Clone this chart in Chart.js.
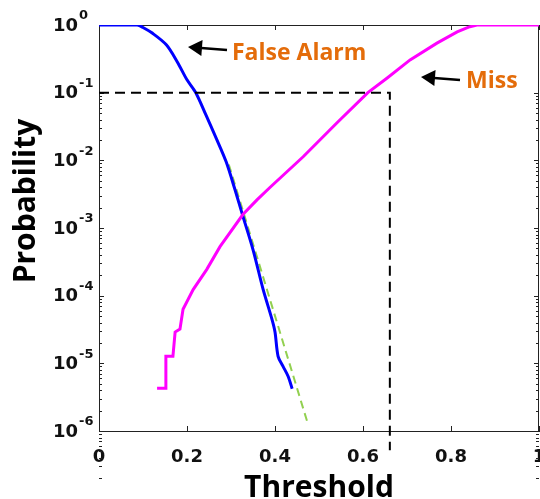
<!DOCTYPE html>
<html>
<head>
<meta charset="utf-8">
<script src="https://cdn.jsdelivr.net/npm/chart.js@4.4.1/dist/chart.umd.min.js"></script>
<style>
  html, body { margin: 0; padding: 0; background: #fff; }
  canvas { display: block; }
</style>
</head>
<body>
<canvas id="ProbChart" width="540" height="499"></canvas>
<script>
// False alarm curve (blue)
var faThreshold = [0, 0.05, 0.087, 0.1, 0.121, 0.153, 0.178, 0.2, 0.22, 0.243, 0.266, 0.289, 0.309, 0.327, 0.35, 0.373, 0.393, 0.4, 0.407, 0.418, 0.43, 0.439];
var faProb = [1, 1, 1, 0.92, 0.76, 0.51, 0.285, 0.155, 0.1, 0.047, 0.0215, 0.0095, 0.0037, 0.0015, 4.8e-4, 1.24e-4, 4.5e-5, 2.9e-5, 1.27e-5, 9.1e-6, 6.4e-6, 4.2e-6];

// Miss curve (magenta)
var missThreshold = [0.132, 0.152, 0.152, 0.168, 0.173, 0.184, 0.191, 0.214, 0.245, 0.275, 0.327, 0.359, 0.389, 0.464, 0.541, 0.611, 0.655, 0.707, 0.768, 0.814, 0.84, 0.859, 0.9, 1];
var missProb = [4.3e-6, 4.3e-6, 1.27e-5, 1.27e-5, 2.9e-5, 3.2e-5, 6.3e-5, 1.23e-4, 2.45e-4, 5.3e-4, 1.58e-3, 2.6e-3, 4e-3, 0.0113, 0.036, 0.1, 0.165, 0.305, 0.54, 0.79, 0.93, 1, 1, 1];

// extrapolated tail of the false alarm curve (green dashed)
var fitThreshold = [0.295, 0.475];
var fitProb = [8.7e-3, 1.26e-6];

// operating point (black dashed)
var opThreshold = 0.661;
var opProb = 0.1;
var dashBottom = 5.2e-7;

var xTicks = [0, 0.2, 0.4, 0.6, 0.8, 1];
var yExponents = [0, -1, -2, -3, -4, -5, -6];
var yTickBase = '10';
var yTickExp = ['0', '-1', '-2', '-3', '-4', '-5', '-6'];

function toPoints(xs, ys) {
    return xs.map(function (x, i) { return { x: x, y: ys[i] }; });
}

// box + inward tick marks, like the matlab axes
var frameTicks = {
    id: 'frameTicks',
    beforeDatasetsDraw: function (chart) {
        var ctx = chart.ctx, a = chart.chartArea;
        var xs = chart.scales.x, ys = chart.scales.y;
        ctx.save();
        ctx.strokeStyle = '#222';
        ctx.lineWidth = 1;
        ctx.beginPath();
        xTicks.forEach(function (v) {
            var px = Math.round(xs.getPixelForValue(v)) + 0.5;
            ctx.moveTo(px, a.bottom); ctx.lineTo(px, a.bottom - 5);
            ctx.moveTo(px, a.top); ctx.lineTo(px, a.top + 5);
        });
        yExponents.forEach(function (e) {
            for (var m = 1; m < 10; m++) {
                if (e === 0 && m > 1) break;
                var py = Math.round(ys.getPixelForValue(m * Math.pow(10, e - (m > 1 ? 1 : 0)))) + 0.5;
                var len = m === 1 ? 5 : 3;
                ctx.moveTo(a.left, py); ctx.lineTo(a.left + len, py);
                ctx.moveTo(a.right, py); ctx.lineTo(a.right - len, py);
            }
        });
        ctx.stroke();
        ctx.strokeRect(a.left + 0.5, a.top + 0.5, a.right - a.left - 1, a.bottom - a.top);

        // y tick labels: 10 with a raised exponent
        ctx.fillStyle = '#111';
        ctx.textAlign = 'left';
        ctx.textBaseline = 'middle';
        yExponents.forEach(function (e, i) {
            var py = ys.getPixelForValue(Math.pow(10, e));
            ctx.font = 'bold 18px "DejaVu Sans"';
            ctx.fillText(yTickBase, 53, py + 1);
            var w = ctx.measureText(yTickBase).width;
            ctx.font = 'bold 13px "DejaVu Sans"';
            ctx.fillText(yTickExp[i], 53 + w + 1, py - 9);
        });
        ctx.restore();
    }
};

function arrow(ctx, x1, y1, x2, y2) {
    var ang = Math.atan2(y2 - y1, x2 - x1);
    ctx.beginPath();
    ctx.moveTo(x1, y1);
    ctx.lineTo(x2 - 10 * Math.cos(ang), y2 - 10 * Math.sin(ang));
    ctx.stroke();
    ctx.beginPath();
    ctx.moveTo(x2, y2);
    ctx.lineTo(x2 - 14 * Math.cos(ang) + 8 * Math.sin(ang), y2 - 14 * Math.sin(ang) - 8 * Math.cos(ang));
    ctx.lineTo(x2 - 14 * Math.cos(ang) - 8 * Math.sin(ang), y2 - 14 * Math.sin(ang) + 8 * Math.cos(ang));
    ctx.closePath();
    ctx.fill();
}

var labelsPlugin = {
    id: 'labelsPlugin',
    afterDraw: function (chart) {
        var ctx = chart.ctx, a = chart.chartArea;
        ctx.save();
        ctx.fillStyle = '#000';
        ctx.font = 'bold 30px "Open Sans"';
        ctx.textAlign = 'center';
        ctx.textBaseline = 'alphabetic';
        ctx.fillText('Threshold', (a.left + a.right) / 2, 497);
        ctx.save();
        ctx.translate(35, 201);
        ctx.rotate(-Math.PI / 2);
        ctx.fillText('Probability', 0, 0);
        ctx.restore();

        ctx.textAlign = 'left';
        ctx.fillStyle = '#E46C0A';
        ctx.font = 'bold 23px "Open Sans"';
        ctx.fillText('False Alarm', 232, 60);
        ctx.fillText('Miss', 466, 88);

        ctx.strokeStyle = '#000';
        ctx.fillStyle = '#000';
        ctx.lineWidth = 2.5;
        arrow(ctx, 227, 50, 188, 47);
        arrow(ctx, 460, 80, 421, 77);
        ctx.restore();
    }
};

var ProbChart = new Chart(document.getElementById('ProbChart'), {
    type: 'line',
    data: {
        datasets: [{
            data: [{ x: 0, y: opProb }, { x: opThreshold, y: opProb }, { x: opThreshold, y: dashBottom }],
            borderColor: '#000',
            borderWidth: 2,
            borderDash: [10, 6],
            pointRadius: 0,
            clip: false
        }, {
            label: 'Miss',
            data: toPoints(missThreshold, missProb),
            borderColor: '#FF00FF',
            borderWidth: 3,
            pointRadius: 0,
            tension: 0
        }, {
            label: 'False Alarm',
            data: toPoints(faThreshold, faProb),
            borderColor: '#0000FF',
            borderWidth: 3,
            pointRadius: 0,
            tension: 0.3
        }, {
            data: toPoints(fitThreshold, fitProb),
            borderColor: '#92D050',
            borderWidth: 2,
            borderDash: [8, 5],
            pointRadius: 0,
            clip: false
        }]
    },
    options: {
        responsive: false,
        animation: false,
        layout: { padding: { top: 25, right: 1, left: 0, bottom: 0 } },
        plugins: {
            legend: { display: false },
            tooltip: { enabled: false }
        },
        scales: {
            x: {
                type: 'linear',
                min: 0,
                max: 1,
                grid: { display: false },
                border: { display: true, color: '#222', width: 1 },
                afterBuildTicks: function (scale) {
                    scale.ticks = xTicks.map(function (v) { return { value: v }; });
                },
                afterFit: function (scale) {
                    scale.height = 68;
                    scale.paddingLeft = 0;
                    scale.paddingRight = 0;
                },
                ticks: {
                    padding: 8,
                    color: '#111',
                    maxRotation: 0,
                    font: { family: 'DejaVu Sans', weight: 'bold', size: 18 },
                    callback: function (value) { return String(value); }
                }
            },
            y: {
                type: 'logarithmic',
                min: 1e-6,
                max: 1,
                grid: { display: false },
                border: { display: true, color: '#222', width: 1 },
                afterBuildTicks: function (scale) {
                    scale.ticks = yExponents.map(function (e) { return { value: Math.pow(10, e) }; });
                },
                afterFit: function (scale) {
                    scale.width = 99;
                    scale.paddingTop = 0;
                    scale.paddingBottom = 0;
                },
                ticks: { display: false }
            }
        }
    },
    plugins: [frameTicks, labelsPlugin]
});
</script>
</body>
</html>
